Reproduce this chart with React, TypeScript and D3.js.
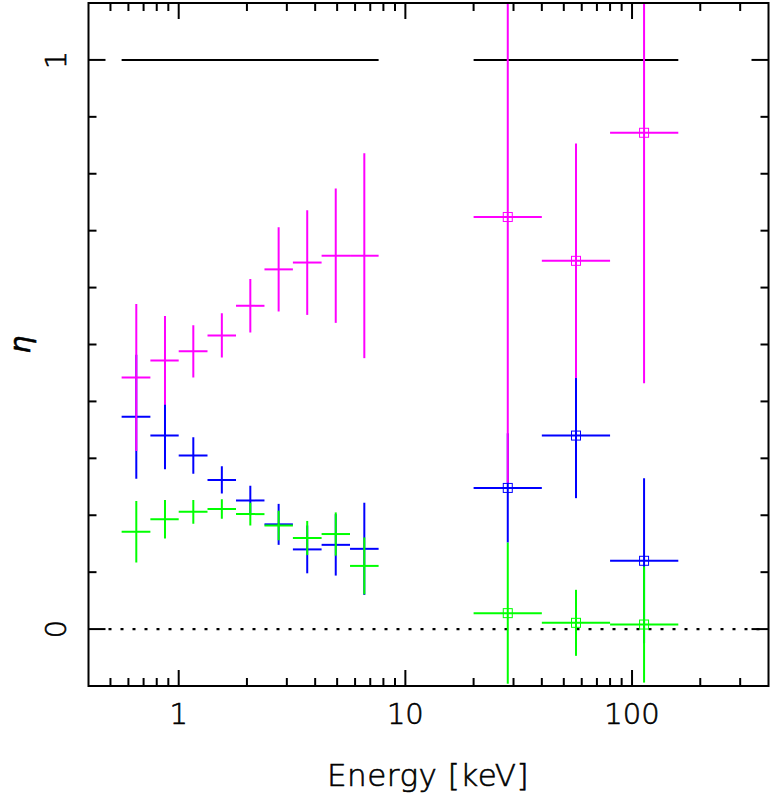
import * as d3 from 'd3';

// energy bins [keV]
const softLo = [0.56, 0.75, 1.0, 1.34, 1.79, 2.39, 3.19, 4.27, 5.7];
const softHi = [0.75, 1.0, 1.34, 1.79, 2.39, 3.19, 4.27, 5.7, 7.62];
const softE = [0.65, 0.87, 1.16, 1.55, 2.07, 2.76, 3.69, 4.93, 6.59];
const hardLo = [20, 40, 80];
const hardHi = [40, 80, 160];
const hardE = [28.3, 56.6, 113];

// eta values and symmetric errors
const magentaSoft = [0.442, 0.472, 0.488, 0.516, 0.568, 0.632, 0.644, 0.656, 0.656];
const magentaSoftErr = [0.129, 0.078, 0.046, 0.039, 0.047, 0.074, 0.092, 0.118, 0.18];
const blueSoft = [0.373, 0.34, 0.305, 0.262, 0.226, 0.184, 0.14, 0.148, 0.141];
const blueSoftErr = [0.109, 0.059, 0.032, 0.024, 0.026, 0.036, 0.042, 0.054, 0.081];
const greenSoft = [0.171, 0.193, 0.206, 0.211, 0.202, 0.182, 0.16, 0.167, 0.111];
const greenSoftErr = [0.054, 0.034, 0.021, 0.017, 0.02, 0.026, 0.03, 0.038, 0.05];

const magentaHard = [0.724, 0.647, 0.872];
const magentaHardErr = [0.467, 0.206, 0.44];
const blueHard = [0.248, 0.34, 0.12];
const blueHardErr = [0.096, 0.11, 0.145];
const greenHard = [0.028, 0.011, 0.008];
const greenHardErr = [0.124, 0.058, 0.102];

// reference level bands
const refBands = [
  [0.56, 7.62],
  [20, 160],
];

const xMajor = [1, 10, 100];
const xMinor = [0.5, 0.6, 0.7, 0.8, 0.9, 2, 3, 4, 5, 6, 7, 8, 9, 20, 30, 40, 50, 60, 70, 80, 90, 200, 300];
const yMajor = [0, 1];
const yMinor = [0.1, 0.2, 0.3, 0.4, 0.5, 0.6, 0.7, 0.8, 0.9];

const W = 772;
const H = 803;
const left = 88.5;
const right = 768.5;
const top = 3;
const bottom = 686;
const font = "'DejaVu Sans', sans-serif";

const x = d3.scaleLog().domain([0.4, 400]).range([left, right]);
const y = d3.scaleLinear().domain([-0.1, 1.1]).range([bottom, top]);

interface Series {
  color: string;
  soft: number[];
  softErr: number[];
  hard: number[];
  hardErr: number[];
}

const series: Series[] = [
  { color: '#0000ff', soft: blueSoft, softErr: blueSoftErr, hard: blueHard, hardErr: blueHardErr },
  { color: '#ff00ff', soft: magentaSoft, softErr: magentaSoftErr, hard: magentaHard, hardErr: magentaHardErr },
  { color: '#00ff00', soft: greenSoft, softErr: greenSoftErr, hard: greenHard, hardErr: greenHardErr },
];

function Cross({ e, lo, hi, v, err, color, square }: {
  e: number; lo: number; hi: number; v: number; err: number; color: string; square: boolean;
}) {
  const cx = x(e);
  const cy = y(v);
  return (
    <g stroke={color} fill="none">
      <line x1={x(lo)} x2={x(hi)} y1={cy} y2={cy} strokeWidth={2} />
      <line x1={cx} x2={cx} y1={y(v + err)} y2={y(v - err)} strokeWidth={2} />
      {square && <rect x={cx - 4.5} y={cy - 4.5} width={9} height={9} strokeWidth={1} />}
    </g>
  );
}

export default function App() {
  return (
    <svg width={W} height={H} style={{ position: 'absolute', left: 0, top: 0, background: '#fff' }}>
      <defs>
        <clipPath id="plot">
          <rect x={left} y={top} width={right - left} height={bottom - top} />
        </clipPath>
      </defs>

      {/* zero line */}
      <line x1={left + 20} x2={right - 4} y1={y(0)} y2={y(0)} stroke="#000" strokeWidth={2.4} strokeDasharray="3,9" />

      {/* reference level at eta = 1 */}
      {refBands.map(([a, b], i) => (
        <line key={i} x1={x(a)} x2={x(b)} y1={y(1)} y2={y(1)} stroke="#000" strokeWidth={2} />
      ))}

      <g clipPath="url(#plot)">
        {series.map((s, si) => (
          <g key={si}>
            {s.soft.map((v, i) => (
              <Cross key={'s' + i} e={softE[i]} lo={softLo[i]} hi={softHi[i]} v={v} err={s.softErr[i]} color={s.color} square={false} />
            ))}
            {s.hard.map((v, i) => (
              <Cross key={'h' + i} e={hardE[i]} lo={hardLo[i]} hi={hardHi[i]} v={v} err={s.hardErr[i]} color={s.color} square={true} />
            ))}
          </g>
        ))}
      </g>

      {/* ticks */}
      <g stroke="#000" strokeWidth={2}>
        {xMajor.map((t) => (
          <g key={'xM' + t}>
            <line x1={x(t)} x2={x(t)} y1={bottom} y2={bottom - 16} />
            <line x1={x(t)} x2={x(t)} y1={top} y2={top + 16} />
          </g>
        ))}
        {xMinor.map((t) => (
          <g key={'xm' + t}>
            <line x1={x(t)} x2={x(t)} y1={bottom} y2={bottom - 8} />
            <line x1={x(t)} x2={x(t)} y1={top} y2={top + 8} />
          </g>
        ))}
        {yMajor.map((t) => (
          <g key={'yM' + t}>
            <line x1={left} x2={left + 17} y1={y(t)} y2={y(t)} />
            <line x1={right} x2={right - 17} y1={y(t)} y2={y(t)} />
          </g>
        ))}
        {yMinor.map((t) => (
          <g key={'ym' + t}>
            <line x1={left} x2={left + 8} y1={y(t)} y2={y(t)} />
            <line x1={right} x2={right - 8} y1={y(t)} y2={y(t)} />
          </g>
        ))}
      </g>

      {/* frame */}
      <rect x={left} y={top} width={right - left} height={bottom - top} fill="none" stroke="#000" strokeWidth={2} />

      {/* tick labels */}
      <g fontFamily={font} fontSize={29} fill="#000" stroke="#000" strokeWidth={0.6} textAnchor="middle" fontWeight={200}>
        {xMajor.map((t) => (
          <text key={t} x={x(t)} y={724}>{t}</text>
        ))}
        {yMajor.map((t) => (
          <text key={t} transform={`translate(66,${y(t)}) rotate(-90)`} y={0}>{t}</text>
        ))}
      </g>

      {/* axis titles */}
      <text x={428} y={786} textAnchor="middle" fontFamily={font} fontSize={31} fontWeight={200}
        fill="#000" stroke="#000" strokeWidth={0.6} letterSpacing={0.5}>
        Energy [keV]
      </text>
      <text transform={`translate(30,${(top + bottom) / 2}) rotate(-90)`} textAnchor="middle" fontFamily={font}
        fontSize={28} fontStyle="italic" fontWeight={200} stroke="#000" strokeWidth={0.6} fill="#000">
        η
      </text>
    </svg>
  );
}
